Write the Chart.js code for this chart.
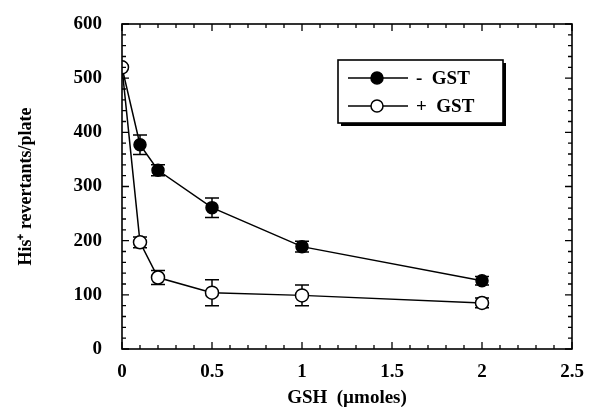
<!DOCTYPE html>
<html><head><meta charset="utf-8">
<script src="https://cdn.jsdelivr.net/npm/chart.js@4/dist/chart.umd.min.js"></script>
<style>html,body{margin:0;padding:0;background:#fff}#wrap{width:592px;height:413px;position:relative}</style>
</head><body><div id="wrap"><canvas id="c"></canvas></div>
<script>
const gshDoses = [0, 0.1, 0.2, 0.5, 1, 2];
const minusGST = [520, 377, 330, 261, 189, 126];
const minusGSTErr = [0, 18, 10, 18, 10, 8];
const plusGST = [520, 197, 132, 104, 99, 85];
const plusGSTErr = [0, 10, 13, 24, 19, 9];
const xTickLabels = ['0', '0.5', '1', '1.5', '2', '2.5'];
const seriesLabels = ['-  GST', '+  GST'];
const xTitle = 'GSH  (\u00B5moles)';
const yTitle = 'His\u207A revertants/plate';

const FONT = '"Liberation Serif", "Times New Roman", serif';

const toPts = (xs, ys) => xs.map((x, i) => ({x: x, y: ys[i]}));

const errorBars = {
  id: 'errorBars',
  beforeDatasetsDraw(chart) {
    const ctx = chart.ctx, xs = chart.scales.x, ys = chart.scales.y;
    const errs = [minusGSTErr, plusGSTErr];
    const vals = [minusGST, plusGST];
    ctx.save();
    ctx.strokeStyle = '#000';
    ctx.lineWidth = 1.5;
    errs.forEach((e, s) => {
      gshDoses.forEach((d, i) => {
        if (!e[i]) return;
        const px = xs.getPixelForValue(d);
        const t = ys.getPixelForValue(vals[s][i] + e[i]);
        const b = ys.getPixelForValue(vals[s][i] - e[i]);
        ctx.beginPath();
        ctx.moveTo(px, t); ctx.lineTo(px, b);
        ctx.moveTo(px - 7, t); ctx.lineTo(px + 7, t);
        ctx.moveTo(px - 7, b); ctx.lineTo(px + 7, b);
        ctx.stroke();
      });
    });
    ctx.restore();
  }
};

const frameTicks = {
  id: 'frameTicks',
  afterDraw(chart) {
    const ctx = chart.ctx, a = chart.chartArea, xs = chart.scales.x, ys = chart.scales.y;
    ctx.save();
    ctx.strokeStyle = '#000';
    ctx.lineWidth = 1.6;
    ctx.strokeRect(a.left, a.top, a.right - a.left, a.bottom - a.top);
    ctx.lineWidth = 1.3;
    ctx.beginPath();
    for (let k = 0; k <= 25; k++) {
      const v = k / 10;
      const px = xs.getPixelForValue(v);
      const L = (k % 5 === 0) ? 7 : 4;
      ctx.moveTo(px, a.bottom); ctx.lineTo(px, a.bottom - L);
      ctx.moveTo(px, a.top); ctx.lineTo(px, a.top + L);
    }
    for (let k = 0; k <= 30; k++) {
      const v = k * 20;
      const py = ys.getPixelForValue(v);
      const L = (k % 5 === 0) ? 7 : 4;
      ctx.moveTo(a.left, py); ctx.lineTo(a.left + L, py);
      ctx.moveTo(a.right, py); ctx.lineTo(a.right - L, py);
    }
    ctx.stroke();
    ctx.restore();
  }
};

const boxLegend = {
  id: 'boxLegend',
  afterDraw(chart) {
    const ctx = chart.ctx;
    const bx = 338, by = 60, bw = 165, bh = 63;
    ctx.save();
    ctx.fillStyle = '#000';
    ctx.fillRect(bx + 3, by + 3, bw, bh);
    ctx.fillStyle = '#fff';
    ctx.fillRect(bx, by, bw, bh);
    ctx.strokeStyle = '#000';
    ctx.lineWidth = 1.6;
    ctx.strokeRect(bx, by, bw, bh);
    const rows = [78, 106];
    chart.data.datasets.forEach((ds) => {
      const y = rows[ds.legendRow];
      ctx.strokeStyle = '#000';
      ctx.lineWidth = 1.5;
      ctx.beginPath(); ctx.moveTo(348, y); ctx.lineTo(408, y); ctx.stroke();
      ctx.beginPath(); ctx.arc(377, y, 6, 0, Math.PI * 2);
      ctx.fillStyle = ds.pointBackgroundColor; ctx.fill(); ctx.stroke();
      ctx.fillStyle = '#000';
      ctx.font = 'bold 19px ' + FONT;
      ctx.textBaseline = 'middle';
      ctx.textAlign = 'left';
      ctx.fillText(ds.label, 416, y + 1);
    });
    ctx.restore();
  }
};

new Chart(document.getElementById('c'), {
  type: 'line',
  data: {
    datasets: [
      {
        label: seriesLabels[1], legendRow: 1, order: 0,
        data: toPts(gshDoses, plusGST),
        borderColor: '#000', borderWidth: 1.5,
        pointBackgroundColor: '#fff', pointBorderColor: '#000', pointBorderWidth: 1.5,
        pointRadius: 6.5, tension: 0, fill: false
      },
      {
        label: seriesLabels[0], legendRow: 0, order: 1,
        data: toPts(gshDoses, minusGST),
        borderColor: '#000', borderWidth: 1.5,
        pointBackgroundColor: '#000', pointBorderColor: '#000', pointBorderWidth: 1.5,
        pointRadius: 6, tension: 0, fill: false
      }
    ]
  },
  options: {
    responsive: true, maintainAspectRatio: false, animation: false, devicePixelRatio: 1,
    layout: {padding: {top: 24, right: 20, left: 0, bottom: 0}},
    plugins: {legend: {display: false}, tooltip: {enabled: false}},
    scales: {
      x: {
        type: 'linear', min: 0, max: 2.5,
        ticks: {stepSize: 0.5, color: '#000', font: {family: FONT, size: 19, weight: 'bold'}, padding: 12, maxRotation: 0,
          callback: (v, i) => xTickLabels[i]},
        grid: {display: false, drawTicks: false}, border: {display: false},
        title: {display: true, text: xTitle, color: '#000', font: {family: FONT, size: 19, weight: 'bold'}, padding: {top: 0, bottom: 4}},
        afterFit: s => { s.height = 64; s.paddingLeft = 0; s.paddingRight = 0; }
      },
      y: {
        min: 0, max: 600,
        ticks: {stepSize: 100, color: '#000', font: {family: FONT, size: 19, weight: 'bold'}, padding: 20},
        grid: {display: false, drawTicks: false}, border: {display: false},
        title: {display: true, text: yTitle, color: '#000', font: {family: FONT, size: 18, weight: 'bold'}, padding: {top: 16, bottom: 0}},
        afterFit: s => { s.width = 122; s.paddingTop = 0; s.paddingBottom = 0; }
      }
    }
  },
  plugins: [errorBars, frameTicks, boxLegend]
});
</script>
</body></html>
